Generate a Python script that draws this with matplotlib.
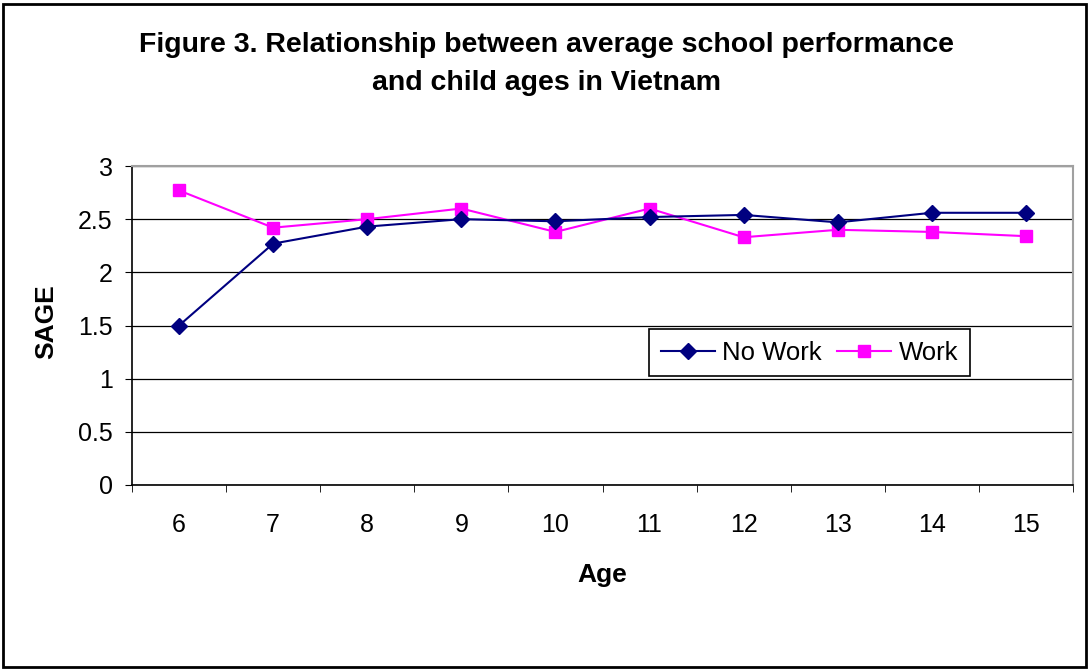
import matplotlib
matplotlib.use("Agg")
import matplotlib.pyplot as plt
from matplotlib.patches import Rectangle

ages = [6, 7, 8, 9, 10, 11, 12, 13, 14, 15]
no_work = [1.50, 2.27, 2.43, 2.50, 2.48, 2.52, 2.54, 2.47, 2.56, 2.56]
work = [2.77, 2.42, 2.50, 2.60, 2.38, 2.60, 2.33, 2.40, 2.38, 2.34]

plt.rcParams['font.family'] = ['Liberation Sans', 'DejaVu Sans']

W, H = 1090, 670
fig = plt.figure(figsize=(W / 100, H / 100), dpi=100)
# plot area in pixels: x 132..1073, y 166..485
ax = fig.add_axes([132 / W, 1 - 485 / H, 941 / W, 319 / H])

# outer frame round the whole chart
fig.patches.append(Rectangle((3 / W, 3 / H), 1083 / W, 663 / H,
                             transform=fig.transFigure, fill=False,
                             edgecolor='black', linewidth=2))

ax.plot(ages, no_work, color='#000080', linewidth=1.5, marker='D',
        markersize=8, label='No Work', zorder=4)
ax.plot(ages, work, color='#FF00FF', linewidth=1.5, marker='s',
        markersize=8, label='Work', zorder=3)

ax.set_xlim(5.5, 15.5)
ax.set_ylim(0, 3)
ax.set_yticks([0, 0.5, 1, 1.5, 2, 2.5, 3])
ax.set_yticklabels(['0', '0.5', '1', '1.5', '2', '2.5', '3'])
ax.set_xticks(ages)
ax.set_xticks([a + 0.5 for a in ages] + [5.5], minor=True)
ax.tick_params(axis='x', which='major', length=0, labelsize=18, pad=20)
ax.tick_params(axis='x', which='minor', length=5, direction='out')
ax.tick_params(axis='y', length=5, direction='out', labelsize=18, pad=9)

ax.grid(axis='y', color='black', linewidth=0.9)
ax.set_axisbelow(True)
for s in ['top', 'right']:
    ax.spines[s].set_color('#a0a0a0')
    ax.spines[s].set_linewidth(1.5)
ax.spines['left'].set_linewidth(1.2)
ax.spines['bottom'].set_linewidth(1.2)

ax.set_xlabel('Age', fontsize=19, fontweight='bold')
ax.xaxis.set_label_coords(0.5, -(563 - 485) / 319)
ax.set_ylabel('SAGE', fontsize=19, fontweight='bold')
ax.yaxis.set_label_coords(-(132 - 58) / 941, 1 - (322 - 166) / 319)

fig.text(547 / W, 1 - 45 / H, 'Figure 3. Relationship between average school performance',
         ha='center', va='center', fontsize=20.5, fontweight='bold')
fig.text(547 / W, 1 - 83 / H, 'and child ages in Vietnam',
         ha='center', va='center', fontsize=20.5, fontweight='bold')

leg = ax.legend(loc='upper left', bbox_to_anchor=((649 - 132) / 941, 1 - (329 - 166) / 319),
                ncol=2, fontsize=18.5, frameon=True, fancybox=False, edgecolor='black',
                framealpha=1, borderpad=0.45, borderaxespad=0, handlelength=2.1,
                columnspacing=0.6, handletextpad=0.3)
leg.get_frame().set_linewidth(1.2)

fig.savefig('out.png', dpi=100)
